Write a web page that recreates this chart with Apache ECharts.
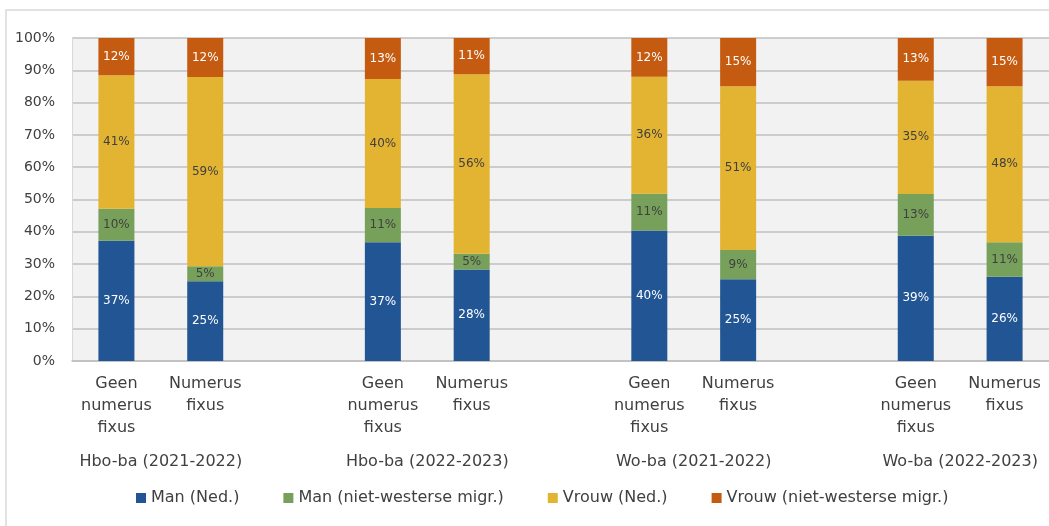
<!DOCTYPE html>
<html>
<head>
<meta charset="utf-8">
<script src="https://cdn.jsdelivr.net/npm/echarts@6/dist/echarts.min.js"></script>
<style>
  html, body { margin: 0; padding: 0; background: #fff; }
  #chart { width: 1049px; height: 526px; }
</style>
</head>
<body>
<div id="chart"></div>
<script>
// categorieën (lege plekken scheiden de groepen)
const categories = [
  'Geen\nnumerus\nfixus', 'Numerus\nfixus', '',
  'Geen\nnumerus\nfixus', 'Numerus\nfixus', '',
  'Geen\nnumerus\nfixus', 'Numerus\nfixus', '',
  'Geen\nnumerus\nfixus', 'Numerus\nfixus'
]
const groups = ['Hbo-ba (2021-2022)', 'Hbo-ba (2022-2023)', 'Wo-ba (2021-2022)', 'Wo-ba (2022-2023)']
const groupCenters = [1, 4, 7, 10]

const seriesNames = ['Man (Ned.)', 'Man (niet-westerse migr.)', 'Vrouw (Ned.)', 'Vrouw (niet-westerse migr.)']
const manNed = [37.2, 24.7, null, 36.8, 28.3, null, 40.4, 25.3, null, 38.8, 26.1]
const manMigr = [9.9, 4.6, null, 10.6, 4.9, null, 11.4, 9.1, null, 12.9, 10.7]
const vrouwNed = [41.4, 58.6, null, 39.9, 55.6, null, 36.2, 50.7, null, 35.1, 48.3]
const vrouwMigr = [11.5, 12.1, null, 12.7, 11.2, null, 12.0, 14.9, null, 13.2, 14.9]

const colors = ['#215594', '#77A05B', '#E3B332', '#C55A11']
const labelColors = ['#ffffff', '#404040', '#404040', '#ffffff']
const font = '"DejaVu Sans", sans-serif'

const chart = echarts.init(document.getElementById('chart'))

const makeSeries = (name, data, idx) => ({
  name,
  type: 'bar',
  stack: 'total',
  barWidth: 36,
  data,
  itemStyle: { color: colors[idx] },
  label: {
    show: true,
    position: 'inside',
    color: labelColors[idx],
    fontSize: 12,
    fontFamily: font,
    formatter: (p) => (p.value == null ? '' : Math.round(p.value) + '%'),
  },
})

const option = {
  animation: false,
  textStyle: { fontFamily: font },
  graphic: [
    {
      type: 'rect',
      z: -10,
      shape: { x: 6, y: 10, width: 1200, height: 700 },
      style: { fill: 'none', stroke: '#d9d9d9', lineWidth: 1.5 },
    },
  ],
  grid: {
    left: 72,
    right: 0,
    top: 38,
    bottom: 165,
    show: true,
    backgroundColor: '#f2f2f2',
    borderWidth: 0,
  },
  legend: {
    bottom: 15,
    left: 131,
    icon: 'rect',
    itemWidth: 10,
    itemHeight: 10,
    itemGap: 44,
    textStyle: { fontSize: 16, color: '#404040', fontFamily: font },
    data: seriesNames,
  },
  xAxis: [
    {
      type: 'category',
      data: categories,
      axisLine: { lineStyle: { color: '#bfbfbf', width: 1.5 } },
      axisTick: { show: false },
      axisLabel: {
        interval: 0,
        color: '#404040',
        fontSize: 16,
        lineHeight: 22,
        margin: 12,
        fontFamily: font,
      },
    },
    {
      type: 'value',
      min: 0,
      max: 11,
      position: 'bottom',
      axisLine: { show: false },
      axisTick: { show: false },
      splitLine: { show: false },
      axisLabel: {
        customValues: groupCenters,
        color: '#404040',
        fontSize: 16,
        margin: 93,
        fontFamily: font,
        formatter: (v) => groups[groupCenters.indexOf(v)] || '',
      },
    },
  ],
  yAxis: {
    type: 'value',
    min: 0,
    max: 100,
    interval: 10,
    axisLine: { show: true, lineStyle: { color: '#d9d9d9', width: 1 } },
    axisTick: { show: false },
    splitLine: { lineStyle: { color: '#bfbfbf', width: 1.5 } },
    axisLabel: {
      formatter: '{value}%',
      color: '#404040',
      fontSize: 14,
      margin: 17,
      fontFamily: font,
    },
  },
  series: [
    makeSeries(seriesNames[0], manNed, 0),
    makeSeries(seriesNames[1], manMigr, 1),
    makeSeries(seriesNames[2], vrouwNed, 2),
    makeSeries(seriesNames[3], vrouwMigr, 3),
  ],
}

chart.setOption(option)
</script>
</body>
</html>
